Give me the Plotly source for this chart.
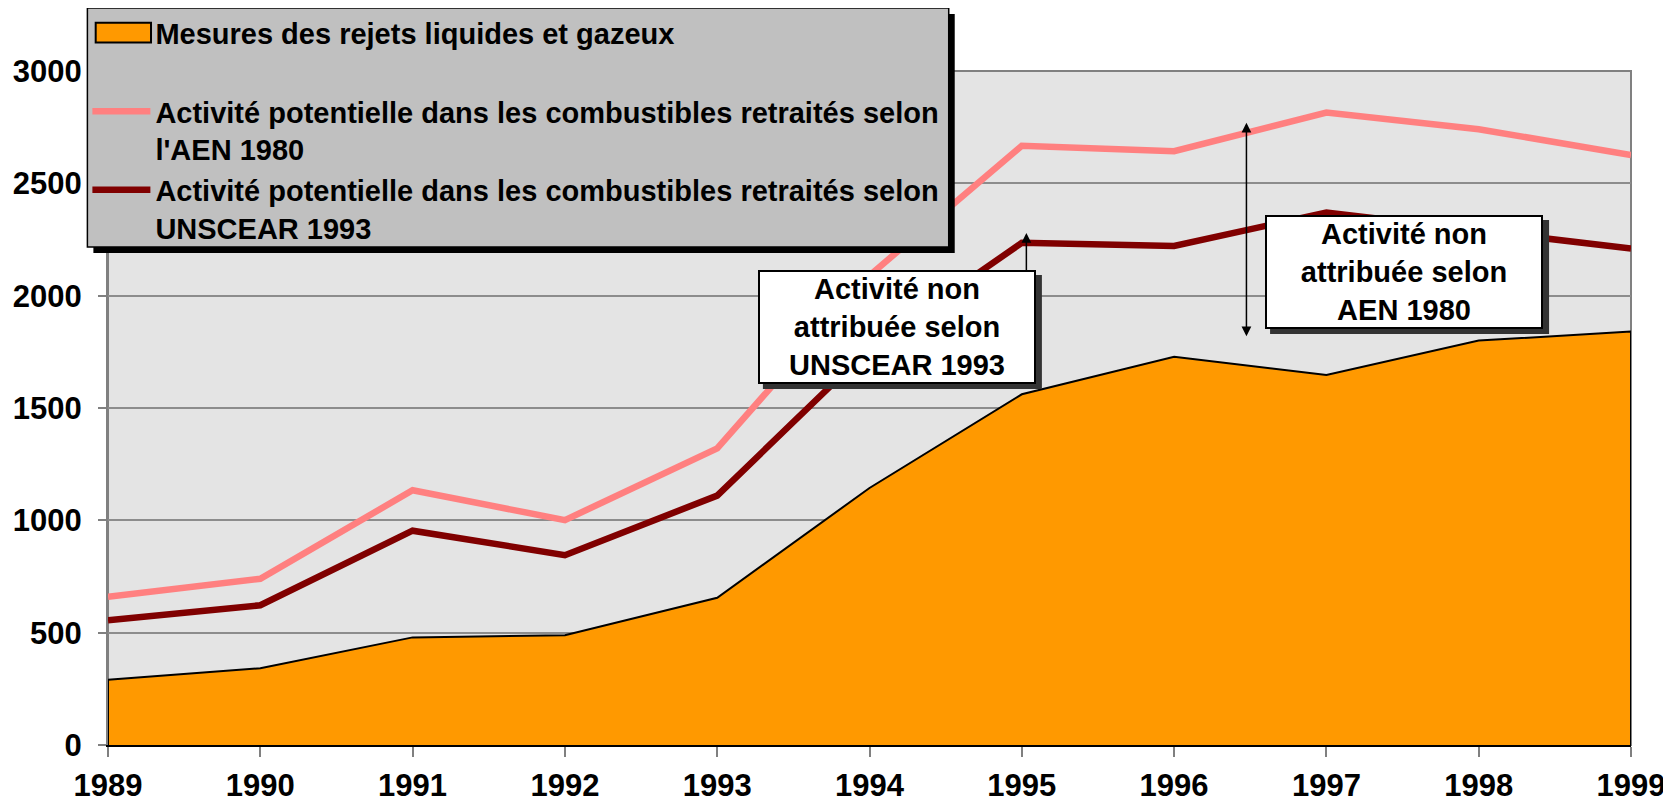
import plotly.graph_objects as go

# ---- data ----
years = [1989, 1990, 1991, 1992, 1993, 1994, 1995, 1996, 1997, 1998, 1999]
mesures = [290, 342, 479, 489, 655, 1144, 1561, 1728, 1647, 1800, 1840]
aen_1980 = [660, 740, 1134, 1001, 1320, 2090, 2667, 2643, 2815, 2741, 2626]
unscear_1993 = [555, 622, 954, 845, 1110, 1765, 2235, 2221, 2370, 2293, 2210]
y_ticks = [0, 500, 1000, 1500, 2000, 2500, 3000]

name_mesures = "Mesures des rejets liquides et gazeux<br> "
name_aen = "Activité potentielle dans les combustibles retraités selon<br>l'AEN 1980"
name_unscear = "Activité potentielle dans les combustibles retraités selon<br>UNSCEAR 1993"

FONT = "Liberation Sans, Arial, sans-serif"
ORANGE = "#FF9900"

fig = go.Figure()

# orange area, closed polygon down to zero so it has a black outline all round
fig.add_trace(go.Scatter(
    x=[years[0]] + years + [years[-1]],
    y=[0] + mesures + [0],
    mode="lines", fill="toself", fillcolor=ORANGE,
    line=dict(color="black", width=2),
    name=name_mesures, showlegend=False, hoverinfo="skip",
))
# legend entry for the area (its box symbol is drawn as a shape below)
fig.add_trace(go.Bar(
    x=[None], y=[None], name=name_mesures,
    marker=dict(color="rgba(0,0,0,0)", line=dict(width=0)),
    showlegend=True,
))
fig.add_trace(go.Scatter(
    x=years, y=aen_1980, mode="lines",
    line=dict(color="#FF8080", width=6.5),
    name=name_aen,
))
fig.add_trace(go.Scatter(
    x=years, y=unscear_1993, mode="lines",
    line=dict(color="#800000", width=6.5),
    name=name_unscear,
))

annotations = []
# arrows (drawn first so the boxes cover their tails)
annotations.append(dict(
    x=1995.03, y=2279, ax=1995.03, ay=1900, xref="x", yref="y", axref="x", ayref="y",
    text="", showarrow=True, arrowhead=2, arrowsize=1.3, arrowwidth=1.5, arrowcolor="black",
))
annotations.append(dict(
    x=1996.475, y=2770, ax=1996.475, ay=1813, xref="x", yref="y", axref="x", ayref="y",
    text="", showarrow=True, arrowhead=2, startarrowhead=2, arrowside="end+start",
    arrowsize=1.3, startarrowsize=1.3, arrowwidth=1.5, arrowcolor="black",
))

box_texts = [
    ("Activité non<br>attribuée selon<br>UNSCEAR 1993", 1994.18, 1861),
    ("Activité non<br>attribuée selon<br>AEN 1980", 1997.51, 2105),
]

shapes = [
    # plot-area border (gray)
    dict(type="rect", xref="paper", yref="paper", x0=0, x1=1, y0=0, y1=1,
         line=dict(color="#808080", width=2), layer="between"),
    # legend drop shadow
    dict(type="rect", xref="paper", yref="paper",
         x0=-0.00959, x1=0.55596, y0=0.73010, y1=1.08447,
         fillcolor="black", line=dict(width=0), layer="above"),
    # legend box
    dict(type="rect", xref="paper", yref="paper",
         x0=-0.01353, x1=0.55202, y0=0.73901, y1=1.09337,
         fillcolor="#C0C0C0", line=dict(color="black", width=1.5), layer="above"),
    # legend symbol of the orange area
    dict(type="rect", xref="paper", yref="paper",
         x0=-0.00808, x1=0.02824, y0=1.04231, y1=1.07141,
         fillcolor=ORANGE, line=dict(color="black", width=2), layer="above"),
]

for txt, bx, by in box_texts:
    # drop shadow of the text box
    shapes.append(dict(
        type="rect", xref="x", yref="y", xsizemode="pixel", ysizemode="pixel",
        xanchor=bx, yanchor=by, x0=-134, x1=145, y0=-62, y1=52,
        fillcolor="#333333", line=dict(width=0), layer="above",
    ))
    annotations.append(dict(
        x=bx, y=by, xref="x", yref="y", text=txt, showarrow=False,
        font=dict(family=FONT, size=29, color="black", weight="bold"),
        bgcolor="white", bordercolor="black", borderwidth=2, borderpad=2,
        width=270, height=106, align="center",
    ))

fig.update_layout(
    width=1663, height=800,
    margin=dict(l=100, r=40.4, t=63.4, b=63, autoexpand=False),
    paper_bgcolor="white",
    plot_bgcolor="#E4E4E4",
    font=dict(family=FONT, color="black"),
    showlegend=True,
    legend=dict(
        x=-0.01353, y=1.0941, xanchor="left", yanchor="top",
        bgcolor="rgba(0,0,0,0)", borderwidth=0,
        font=dict(family=FONT, size=29, color="black", weight="bold"),
        valign="top", tracegroupgap=0, itemwidth=58,
    ),
    xaxis=dict(
        range=[years[0], years[-1]], tickvals=years,
        ticks="outside", ticklen=10, tickcolor="#808080", tickwidth=2,
        showline=True, linecolor="black", linewidth=2,
        showgrid=False, zeroline=False, automargin=False,
        tickfont=dict(family=FONT, size=31, color="black", weight="bold"),
        ticklabelstandoff=2,
    ),
    yaxis=dict(
        range=[y_ticks[0], y_ticks[-1]], tickvals=y_ticks,
        ticks="outside", ticklen=8, tickcolor="#808080", tickwidth=2,
        showline=True, linecolor="#808080", linewidth=2,
        showgrid=True, gridcolor="#8C8C8C", gridwidth=2, zeroline=False,
        automargin=False,
        tickfont=dict(family=FONT, size=31, color="black", weight="bold"),
        ticklabelstandoff=10,
    ),
    annotations=annotations,
    shapes=shapes,
)

fig.write_html("out.html")
